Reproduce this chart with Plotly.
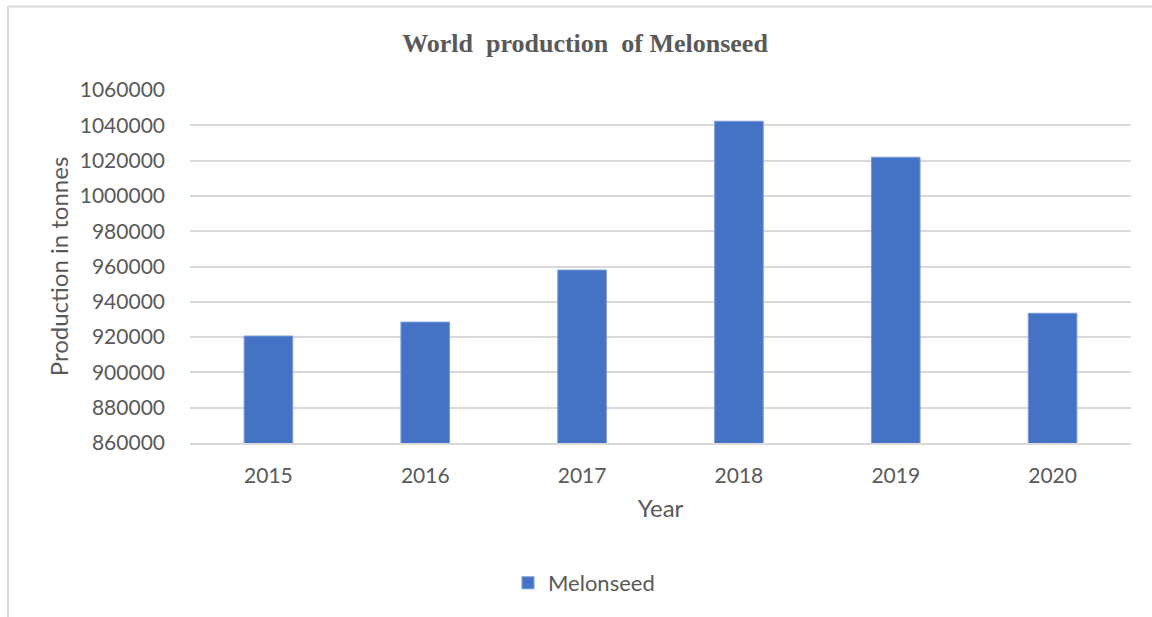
import plotly.graph_objects as go

years = ["2015", "2016", "2017", "2018", "2019", "2020"]
production = [920600, 928500, 958000, 1042300, 1021900, 933500]
y_ticks = [860000, 880000, 900000, 920000, 940000, 960000, 980000, 1000000, 1020000, 1040000, 1060000]

W, H = 1152, 617
L, R, T, B = 190, 21, 90, 174
pw, ph = W - L - R, H - T - B

def px(x):
    return (x - L) / pw

def py(y):
    return (H - B - y) / ph

font_family = "Lato, 'Open Sans', sans-serif"
grey = "#595959"

fig = go.Figure()
fig.add_trace(go.Bar(
    x=years, y=production, name="Melonseed",
    marker=dict(color="#4472C4", line=dict(color="#7B9BD8", width=1)),
))

fig.update_layout(
    width=W, height=H,
    margin=dict(l=L, r=R, t=T, b=B),
    paper_bgcolor="white", plot_bgcolor="white",
    bargap=0.69,
    title=dict(text="World  production  of Melonseed", x=585 / W, xanchor="center",
               y=1 - 43 / H, yanchor="middle",
               font=dict(family="'Liberation Serif', 'Times New Roman', serif", size=26,
                         color=grey, weight="bold")),
    font=dict(family=font_family, color=grey, size=21),
    showlegend=True,
    legend=dict(orientation="h", x=px(584), xanchor="center", y=py(583), yanchor="middle",
                itemwidth=30, font=dict(size=22, color=grey)),
    xaxis=dict(showgrid=False, showline=True, linecolor="#d9d9d9", linewidth=2,
               ticks="", ticklabelstandoff=13,
               tickfont=dict(size=21, color=grey),
               title=dict(text="Year", font=dict(size=24, color=grey), standoff=14)),
    yaxis=dict(range=[860000, 1060000], tickvals=y_ticks, ticktext=[str(v) for v in y_ticks],
               showgrid=True, gridcolor="#d9d9d9", gridwidth=2, zeroline=False,
               showline=False, ticks="", ticklabelstandoff=24,
               tickfont=dict(size=21, color=grey),
               title=dict(text="Production in tonnes", font=dict(size=24, color=grey), standoff=4)),
    shapes=[
        dict(type="line", xref="paper", yref="paper", x0=px(8), x1=px(1152), y0=py(6.5), y1=py(6.5),
             line=dict(color="#d9d9d9", width=2)),
        dict(type="line", xref="paper", yref="paper", x0=px(8), x1=px(8), y0=py(6), y1=py(617),
             line=dict(color="#d9d9d9", width=2)),
    ],
)

fig.write_html("out.html")
